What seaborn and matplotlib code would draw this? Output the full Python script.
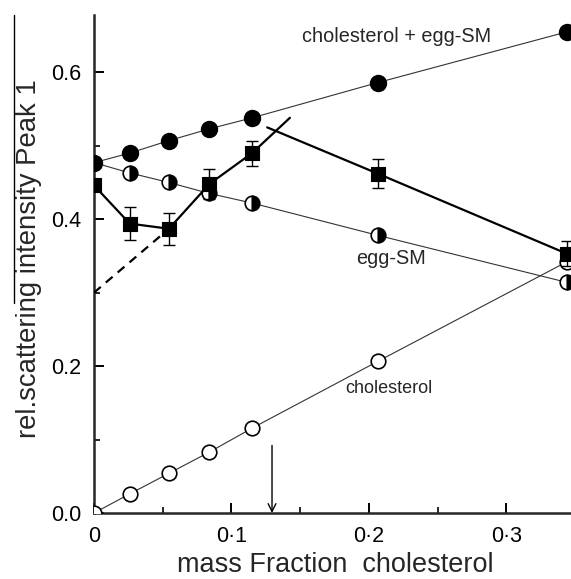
import numpy as np
import matplotlib
matplotlib.use("Agg")
import matplotlib.pyplot as plt
from matplotlib.lines import Line2D
from matplotlib.ticker import FixedLocator
import seaborn as sns

# ---- data ----
frac = [0.0, 0.026, 0.0545, 0.084, 0.115, 0.2065, 0.344]
chol_sm = [0.477, 0.490, 0.507, 0.523, 0.538, 0.586, 0.655]   # cholesterol + egg-SM
egg_sm = [0.477, 0.463, 0.450, 0.435, 0.422, 0.378, 0.314]    # egg-SM
chol = [0.0, 0.026, 0.054, 0.083, 0.1155, 0.2065, 0.342]      # cholesterol
peak = [0.446, 0.394, 0.387, 0.448, 0.490, 0.462, 0.353]      # measured (squares)
peak_err = [0.0, 0.022, 0.022, 0.021, 0.017, 0.020, 0.017]

# guide lines drawn in the figure
dash_x = [0.0, 0.0545]
dash_y = [0.300, 0.387]
rise_x = [0.115, 0.1425]
rise_y = [0.490, 0.538]
fall_x = [0.126, 0.2065, 0.344]
fall_y = [0.525, 0.462, 0.353]
arrow_x = 0.1295
arrow_y = [0.092, 0.0]

xticks = [0.0, 0.1, 0.2, 0.3]
xtick_labels = ["0", "0\u00b71", "0\u00b72", "0\u00b73"]
yticks = [0.0, 0.2, 0.4, 0.6]
ytick_labels = ["0.0", "0.2", "0.4", "0.6"]

sns.set_style("ticks")
plt.rcParams["font.family"] = ["Liberation Sans", "DejaVu Sans"]

W, H = 571, 579
fig = plt.figure(figsize=(W / 100, H / 100), dpi=100)
ax = fig.add_axes([94 / W, (H - 513) / H, (W - 94) / W, (513 - 15) / H])

thin = dict(color="#333333", linewidth=0.8)

# cholesterol + egg-SM (filled circles)
sns.lineplot(x=frac, y=chol_sm, ax=ax, marker="o", markersize=11.5,
             markerfacecolor="black", markeredgecolor="black", markeredgewidth=1,
             zorder=3, **thin)
# egg-SM (half-filled circles)
sns.lineplot(x=frac, y=egg_sm, ax=ax, marker="o", markersize=10.5,
             fillstyle="left", markerfacecolor="white", markerfacecoloralt="black",
             markeredgecolor="black", markeredgewidth=1.2, zorder=3, **thin)
# cholesterol (open circles)
sns.lineplot(x=frac, y=chol, ax=ax, marker="o", markersize=10.5,
             markerfacecolor="white", markeredgecolor="black", markeredgewidth=1.2,
             zorder=3, **thin)

# measured squares: polyline over first five, then guide lines
sns.lineplot(x=frac[:5], y=peak[:5], ax=ax, color="black", linewidth=1.6, zorder=4)
sns.lineplot(x=rise_x, y=rise_y, ax=ax, color="black", linewidth=1.6, zorder=4)
sns.lineplot(x=fall_x, y=fall_y, ax=ax, color="black", linewidth=1.6, zorder=4)
sns.lineplot(x=dash_x, y=dash_y, ax=ax, color="black", linewidth=1.6,
             linestyle=(0, (4, 3)), zorder=4)
ax.errorbar(frac, peak, yerr=peak_err, fmt="none", ecolor="black",
            elinewidth=1.0, capsize=4.5, capthick=1.0, zorder=5)
sns.scatterplot(x=frac, y=peak, ax=ax, marker="s", s=110, color="black",
                edgecolor="black", linewidth=0.8, zorder=6)

# arrow marking the transition
ax.annotate("", xy=(arrow_x, arrow_y[1]), xytext=(arrow_x, arrow_y[0]),
            arrowprops=dict(arrowstyle="->", color="black", lw=1.0,
                            mutation_scale=14, shrinkA=0, shrinkB=0))

# annotations
ax.text(0.2204, 0.649, "cholesterol + egg-SM", fontsize=14.3, ha="center", va="center")
ax.text(0.216, 0.346, "egg-SM", fontsize=14.3, ha="center", va="center")
ax.text(0.2145, 0.170, "cholesterol", fontsize=13, ha="center", va="center")

ax.set_xlim(0, 0.347)
ax.set_ylim(0, 0.678)
ax.xaxis.set_major_locator(FixedLocator(xticks))
ax.set_xticklabels(xtick_labels)
ax.xaxis.set_minor_locator(FixedLocator([0.05, 0.15, 0.25]))
ax.yaxis.set_major_locator(FixedLocator(yticks))
ax.set_yticklabels(ytick_labels)
ax.yaxis.set_minor_locator(FixedLocator([0.1, 0.3, 0.5]))

sns.despine(ax=ax)
for s in ("left", "bottom"):
    ax.spines[s].set_linewidth(1.8)
ax.tick_params(which="major", direction="in", length=7.5, width=1.4, labelsize=15.5,
               pad=9, colors="black")
ax.tick_params(which="minor", direction="in", length=4, width=1.4)

ax.set_xlabel("mass Fraction  cholesterol", fontsize=19.5, va="baseline")
ax.xaxis.set_label_coords((335 - 94) / 477, (513 - 572) / 498)
ax.set_ylabel("rel.scattering intensity Peak 1", fontsize=19.8)
ax.yaxis.set_label_coords((42 - 94) / 477, (513 - 259) / 498)

# overline on the axis title
fig.add_artist(Line2D([14 / W, 14 / W], [1 - 15 / H, 1 - 303 / H],
                      color="black", linewidth=1.0))

fig.savefig("out.png", dpi=100)
